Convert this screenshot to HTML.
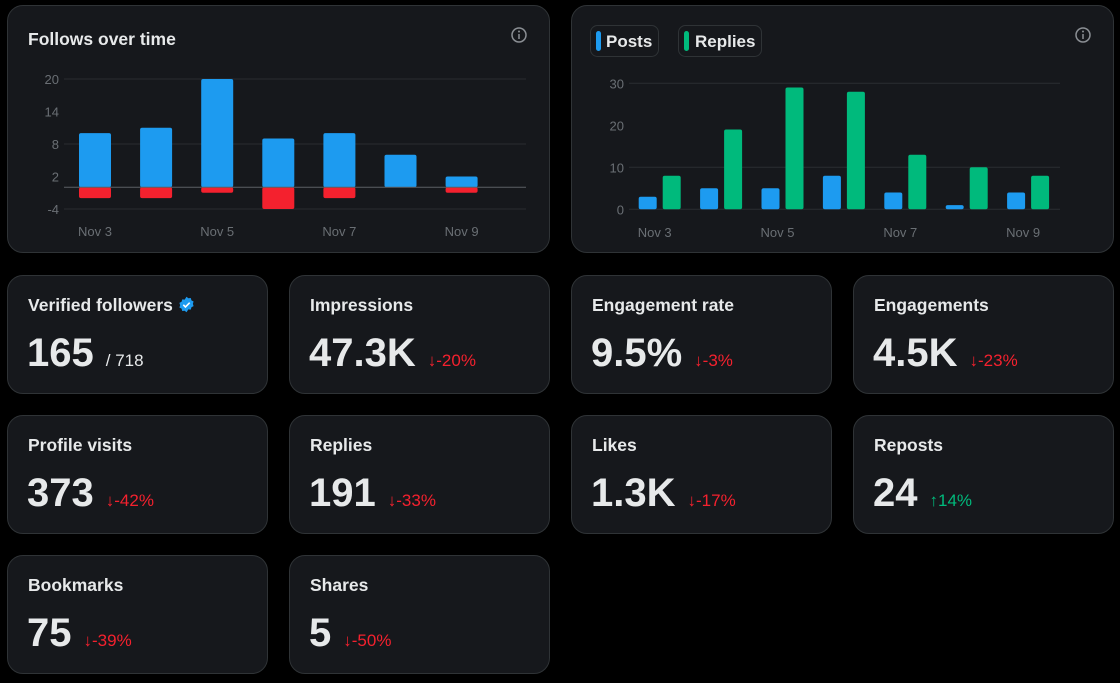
<!DOCTYPE html>
<html><head><meta charset="utf-8"><style>
body{margin:0;width:1120px;height:683px;background:#000;font-family:"Liberation Sans",sans-serif;position:relative;overflow:hidden}
.card{position:absolute;background:#16181c;border:1px solid #2f3336;border-radius:16px;box-sizing:border-box}
.t{position:absolute;left:20px;top:19px;font-size:17.5px;color:#e7e9ea;font-weight:bold}
.v{position:absolute;left:19px;top:55px;font-size:40px;font-weight:bold;color:#e7e9ea;white-space:nowrap}
.d{font-size:17px;font-weight:normal;margin-left:12px;color:#f4212e}
.up{color:#00ba7c}
svg{position:absolute;left:0;top:0}
.tick{fill:#6a6f74;font-size:13px;font-family:"Liberation Sans",sans-serif}
</style></head><body>
<div class="card" style="left:7px;top:5px;width:543px;height:248px">
<div class="t" style="top:23px">Follows over time</div></div>
<div class="card" style="left:571px;top:5px;width:543px;height:248px"></div>
<svg width="1120" height="260" id="charts">
<g><circle cx="519" cy="35" r="7" fill="none" stroke="#8b8f94" stroke-width="1.5"/><line x1="519" y1="34" x2="519" y2="39" stroke="#8b8f94" stroke-width="1.5"/><circle cx="519" cy="31.5" r="1" fill="#8b8f94"/></g>
<g><circle cx="1083" cy="35" r="7" fill="none" stroke="#8b8f94" stroke-width="1.5"/><line x1="1083" y1="34" x2="1083" y2="39" stroke="#8b8f94" stroke-width="1.5"/><circle cx="1083" cy="31.5" r="1" fill="#8b8f94"/></g>
<g><rect x="590.5" y="25.5" width="68" height="31" rx="7" fill="none" stroke="#2f3336"/><rect x="596" y="31" width="5" height="20" rx="2.5" fill="#1d9bf0"/><text x="606" y="47" fill="#e7e9ea" font-size="17" font-weight="bold">Posts</text></g>
<g><rect x="678.5" y="25.5" width="83" height="31" rx="7" fill="none" stroke="#2f3336"/><rect x="684" y="31" width="5" height="20" rx="2.5" fill="#00ba7c"/><text x="695" y="47" fill="#e7e9ea" font-size="17" font-weight="bold">Replies</text></g>
</svg>
<script>
const dates=["Nov 3","Nov 4","Nov 5","Nov 6","Nov 7","Nov 8","Nov 9"];
const follows=[10,11,20,9,10,6,2];
const unfollows=[-2,-2,-1,-4,-2,0,-1];
const leftTicks=[20,14,8,2,-4];
const leftGrid=[20,8,-4];
const posts=[3,5,5,8,4,1,4];
const replies=[8,19,29,28,13,10,8];
const rightTicks=[30,20,10,0];
const rightGrid=[30,10,0];
const NS="http://www.w3.org/2000/svg";
const svg=document.getElementById('charts');
function mk(tag,attrs){const e=document.createElementNS(NS,tag);for(const k in attrs)e.setAttribute(k,attrs[k]);svg.appendChild(e);return e;}
function bar(x,y0,y1,w,fill){const top=Math.min(y0,y1),h=Math.abs(y1-y0);return mk('rect',{x:x,y:top,width:w,height:Math.max(h,0.01),rx:2,fill:fill});}
const yL=v=>187.3-v*5.417;
const xL=i=>79+i*61.1;
leftGrid.forEach(v=>{const l=mk('line',{x1:64,x2:526,y1:yL(v),y2:yL(v),stroke:'#2a2d31','stroke-width':1});

});
leftTicks.forEach(v=>{const t=mk('text',{x:59,y:yL(v)+5,'text-anchor':'end',class:'tick'});t.textContent=v;

});
follows.forEach((v,i)=>{const r=bar(xL(i),yL(0),yL(v),32,'#1d9bf0');

});
unfollows.forEach((v,i)=>{if(v===0)return;const r=bar(xL(i),yL(0),yL(v),32,'#f4212e');

});
{const z=mk('line',{x1:64,x2:526,y1:yL(0),y2:yL(0),stroke:'#5b5f64','stroke-width':1});

}
dates.forEach((d,i)=>{if(i%2)return;const t=mk('text',{x:xL(i)+16,y:236,'text-anchor':'middle',class:'tick'});t.textContent=d;

});
const yR=v=>209.3-v*4.2;
const xR=i=>638.7+i*61.4;
rightGrid.forEach(v=>{const l=mk('line',{x1:629,x2:1060,y1:yR(v),y2:yR(v),stroke:'#2a2d31','stroke-width':1});

});
rightTicks.forEach(v=>{const t=mk('text',{x:624,y:yR(v)+5,'text-anchor':'end',class:'tick'});t.textContent=v;

});
posts.forEach((v,i)=>{const r=bar(xR(i),yR(0),yR(v),18,'#1d9bf0');

});
replies.forEach((v,i)=>{const r=bar(xR(i)+24,yR(0),yR(v),18,'#00ba7c');

});
dates.forEach((d,i)=>{if(i%2)return;const t=mk('text',{x:xR(i)+16,y:237,'text-anchor':'middle',class:'tick'});t.textContent=d;

});
</script>

<div class="card" style="left:7px;top:275px;width:261px;height:119px">
<div class="t">Verified followers <svg style="position:relative;vertical-align:-2px" width="17" height="17" viewBox="0 0 24 24"><path d="M12 1l2.6 2.2 3.4-.4 1 3.3 3 1.6-1 3.3 1 3.3-3 1.6-1 3.3-3.4-.4L12 23l-2.6-2.2-3.4.4-1-3.3-3-1.6 1-3.3-1-3.3 3-1.6 1-3.3 3.4.4z" fill="#1d9bf0"/><path d="M7.5 12.5l3 3 6-6" stroke="#fff" stroke-width="2.2" fill="none"/></svg></div>
<div class="v">165<span style="font-size:17px;font-weight:normal;margin-left:12px">/ 718</span></div></div>
<div class="card" style="left:289px;top:275px;width:261px;height:119px"><div class="t">Impressions</div><div class="v">47.3K<span class="d">↓-20%</span></div></div>
<div class="card" style="left:571px;top:275px;width:261px;height:119px"><div class="t">Engagement rate</div><div class="v">9.5%<span class="d">↓-3%</span></div></div>
<div class="card" style="left:853px;top:275px;width:261px;height:119px"><div class="t">Engagements</div><div class="v">4.5K<span class="d">↓-23%</span></div></div>
<div class="card" style="left:7px;top:415px;width:261px;height:119px"><div class="t">Profile visits</div><div class="v">373<span class="d">↓-42%</span></div></div>
<div class="card" style="left:289px;top:415px;width:261px;height:119px"><div class="t">Replies</div><div class="v">191<span class="d">↓-33%</span></div></div>
<div class="card" style="left:571px;top:415px;width:261px;height:119px"><div class="t">Likes</div><div class="v">1.3K<span class="d">↓-17%</span></div></div>
<div class="card" style="left:853px;top:415px;width:261px;height:119px"><div class="t">Reposts</div><div class="v">24<span class="d up">↑14%</span></div></div>
<div class="card" style="left:7px;top:555px;width:261px;height:119px"><div class="t">Bookmarks</div><div class="v">75<span class="d">↓-39%</span></div></div>
<div class="card" style="left:289px;top:555px;width:261px;height:119px"><div class="t">Shares</div><div class="v">5<span class="d">↓-50%</span></div></div>
</body></html>
